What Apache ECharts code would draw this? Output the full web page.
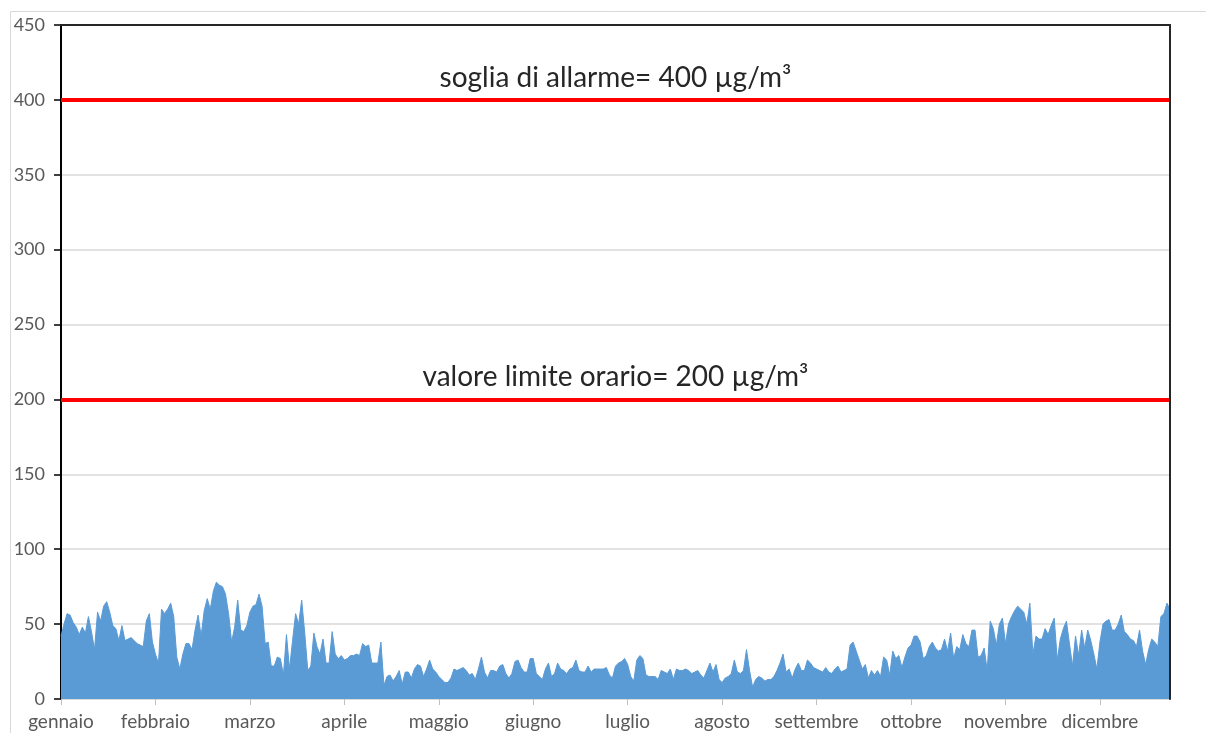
<!DOCTYPE html>
<html>
<head>
<meta charset="utf-8">
<script src="https://cdn.jsdelivr.net/npm/echarts@6/dist/echarts.min.js"></script>
<style>
html,body{margin:0;padding:0;background:#fff;}
#chart{width:1206px;height:733px;}
</style>
</head>
<body>
<div id="chart"></div>
<script>
// Month names (category labels) and their lengths in days
const monthNames = ["gennaio","febbraio","marzo","aprile","maggio","giugno","luglio","agosto","settembre","ottobre","novembre","dicembre"];
const monthDays = [31,28,31,30,31,30,31,31,30,31,30,31];

// Daily hourly-max NO2 values (µg/m³)
const valuesQ1 = [42,50,57,56,51,48,43,48,44,55, 45,33,58,52,62,65,58,49,47,39, 49,39,40,41,39,37,36,35,52,57,
  38,30,24,60,57,60,64,55,28,20, 30,37,37,33,46,56,42,59,67,60, 72,78,76,75,70,57,38,48,66,46, 45,49,58,62,
  63,70,62,37,38,22, 22,28,27,16,43,20,39,57,50,66, 44,19,22,44,35,30,40,24,24,45];
const valuesQ2 = [30,27,29,26,27,29,29,30,29,37, 35,36,24,24,24,38,9,15,16,12, 15,19,10,18,18,14,20,23,22,15,
  20,26,20,18,15,13,11,11,14,20, 19,20,21,19,16,17,13,20,28,18, 14,19,19,18,22,23,17,14,17,25,
  26,21,18,18,27,27,17,15,13,20, 24,15,17,24,20,19,17,20,21,26, 19,18,18,22,18,20,20,20,20,21, 16];
const valuesQ3 = [14,22,24,25,27,23,15,12,26, 29,27,16,15,15,15,13,19,18,17,
  20,13,20,19,19,20,19,17,18,19, 16,14,19,24,18,23,13,11,14,15, 17,26,18,17,19,33,19,8,13,15,
  14,12,13,13,15,19,24,30,18,20, 14,20,24,19,19,26,24,21,20,19, 18,21,18,17,20,22,18,19,20,36,
  38,32,26,20,23,14,19,16,19,15, 28,26];
const valuesQ4 = [16,32,27,29,21,28,34,36,
  42,42,38,27,29,35,38,34,32,33, 40,32,44,27,35,33,43,37,35,46, 46,28,29,34,19,52,47,36,50,54,
  37,50,55,59,62,60,58,50,64,30, 42,40,40,47,43,49,54,26,40,47, 52,37,22,42,29,46,34,46,39,30,
  20,38,50,52,53,46,46,50,56,45, 43,40,39,35,46,32,23,33,40,38, 35,55,57,64,60];

// Reference thresholds
const thresholds = [
  {value: 400, label: "soglia di allarme= 400 µg/m³"},
  {value: 200, label: "valore limite orario= 200 µg/m³"}
];
const yTicks = {min: 0, max: 450, interval: 50};

const dailyValues = valuesQ1.concat(valuesQ2, valuesQ3, valuesQ4);
const categories = [];
monthNames.forEach((m, i) => { for (let d = 0; d < monthDays[i]; d++) categories.push(m); });

const chart = echarts.init(document.getElementById('chart'), null, {renderer: 'canvas'});
const font = 'Lato, "Open Sans", sans-serif';

chart.setOption({
  animation: false,
  backgroundColor: '#ffffff',
  graphic: [{
    type: 'rect', z: -10, silent: true,
    shape: {x: 10.5, y: 11.5, width: 1300, height: 900},
    style: {fill: 'none', stroke: '#d9d9d9', lineWidth: 1}
  }],
  grid: {
    left: 61, right: 36, top: 25, bottom: 34,
    show: false
  },
  xAxis: [{
    type: 'category',
    data: categories,
    boundaryGap: false,
    axisLine: {show: true, lineStyle: {color: '#d9d9d9', width: 1}},
    axisTick: {show: true, interval: 30, length: 6, lineStyle: {color: '#bfbfbf'}},
    axisLabel: {interval: 30, color: '#595959', fontSize: 19, fontFamily: font, margin: 13},
    splitLine: {show: false}
  }, {
    type: 'category',
    position: 'top',
    data: categories,
    boundaryGap: false,
    z: 5,
    axisLine: {show: true, onZero: false, lineStyle: {color: '#262626', width: 2}},
    axisTick: {show: false},
    axisLabel: {show: false},
    splitLine: {show: false}
  }],
  yAxis: [{
    type: 'value',
    min: yTicks.min, max: yTicks.max, interval: yTicks.interval,
    axisLine: {show: true, lineStyle: {color: '#000000', width: 2}},
    axisTick: {show: true, length: 7, lineStyle: {color: '#000000', width: 1.5}},
    axisLabel: {color: '#595959', fontSize: 18, fontFamily: font, margin: 16},
    splitLine: {show: true, lineStyle: {color: '#d9d9d9', width: 1.5}}
  }, {
    type: 'value',
    position: 'right',
    min: yTicks.min, max: yTicks.max, interval: yTicks.interval,
    z: 5,
    axisLine: {show: true, onZero: false, lineStyle: {color: '#262626', width: 2}},
    axisTick: {show: false},
    axisLabel: {show: false},
    splitLine: {show: false}
  }],
  series: [{
    type: 'line',
    data: dailyValues,
    symbol: 'none',
    smooth: false,
    lineStyle: {color: '#5b9bd5', width: 1},
    areaStyle: {color: '#5b9bd5', opacity: 1},
    itemStyle: {color: '#5b9bd5'},
    markLine: {
      silent: true,
      symbol: ['none', 'none'],
      lineStyle: {color: '#ff0000', width: 4, type: 'solid'},
      label: {
        show: true, position: 'middle', distance: 8,
        color: '#262626', fontSize: 28, fontFamily: font,
        formatter: p => p.name
      },
      data: thresholds.map(t => ({yAxis: t.value, name: t.label}))
    }
  }]
});
</script>
</body>
</html>
